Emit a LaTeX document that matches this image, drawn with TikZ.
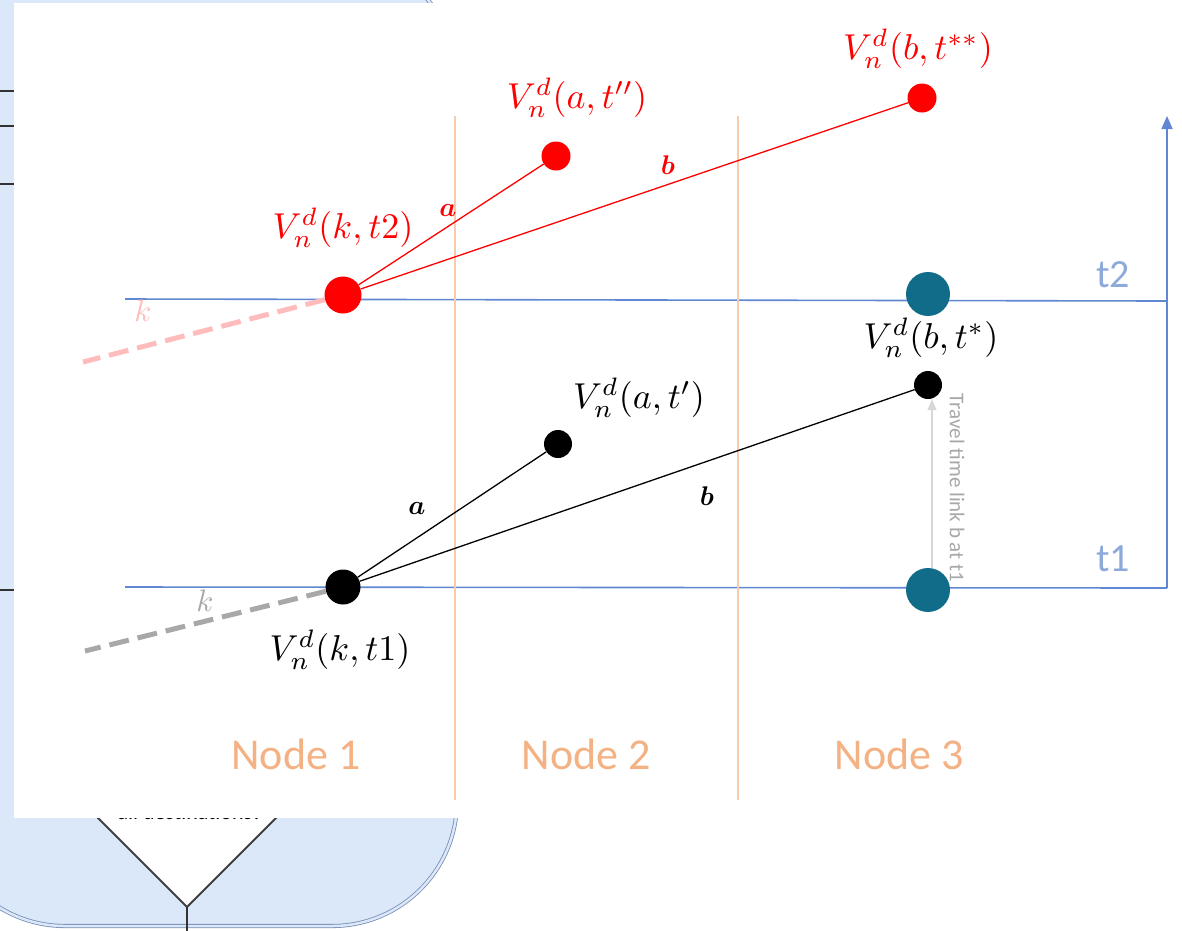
\documentclass[tikz,border=0pt]{standalone}
\usepackage{amsmath,amssymb}
\usepackage{fontspec}
\setsansfont{Carlito}
\usetikzlibrary{arrows.meta,calc}

\definecolor{paneblue}{RGB}{218,232,250}
\definecolor{paneedge}{RGB}{120,140,180}
\definecolor{axisblue}{RGB}{95,135,210}
\definecolor{labelblue}{RGB}{142,170,219}
\definecolor{sepline}{RGB}{248,203,173}
\definecolor{nodeorange}{RGB}{244,177,131}
\definecolor{stopteal}{RGB}{17,108,138}
\definecolor{pinkk}{RGB}{255,188,188}
\definecolor{greyk}{RGB}{168,168,168}
\definecolor{arrowgrey}{RGB}{215,215,215}

\begin{document}
\begin{tikzpicture}[x=1pt,y=-1pt,
  dot/.style={circle,fill,inner sep=0pt},
  vlabel/.style={scale=3.6},
  linklabel/.style={scale=2.7},
  klabel/.style={scale=3.1},
  nodename/.style={font=\sffamily\fontsize{44}{50}\selectfont,text=nodeorange},
  tlabel/.style={font=\sffamily\fontsize{40}{46}\selectfont,text=labelblue},
  axis/.style={axisblue,line width=1.6},
  sep/.style={sepline,line width=1.4},
  kdash/.style={line width=5,dash pattern=on 20pt off 9pt}]

\useasboundingbox (0,0) rectangle (1182,930);
\clip (0,0) rectangle (1182,930);

% Flowchart lying behind
\filldraw[fill=paneblue,draw=paneedge,line width=0.8,double=paneblue,double distance=2.5,
  rounded corners=125] (-60,-45) rectangle (457,926);
\foreach \y in {91,126,184,590}
  \draw[black!80,line width=1.5] (0,\y) -- (20,\y);
\draw[black!75,line width=2,fill=white] (187,727) -- (277,817) -- (187,907) -- (97,817) -- cycle;
\draw[black!80,line width=2] (187,907) -- (187,935);
\node[font=\sffamily\fontsize{22}{26}\selectfont,anchor=base] (ask) at (190,819) {all destinations?};

% White sheet
\fill[white] (14,3) rectangle (1190,818);

% Time lines and axis
\coordinate (tTwoL) at (125,299);
\coordinate (tTwoR) at (1167,301);
\coordinate (tOneL) at (125,587);
\coordinate (tOneR) at (1167,588);
\coordinate (axisTop) at (1167,116);
\draw[axis] (tTwoL) -- (tTwoR);
\draw[axis] (tOneL) -- (tOneR);
\draw[axis,-{Triangle[length=13pt,width=11pt]}] (tOneR) -- (axisTop);
\node[tlabel] (tTwo) at (1113,275) {t2};
\node[tlabel] (tOne) at (1113,559) {t1};

% Node columns
\draw[sep] (455,116) -- (455,800);
\draw[sep] (738,116) -- (738,800);
\node[nodename] (nodeOne) at (296,754) {Node 1};
\node[nodename] (nodeTwo) at (586,754) {Node 2};
\node[nodename] (nodeThree) at (899,754) {Node 3};

% Stops of node 3
\node[dot,fill=stopteal,minimum size=44] (stopTwo) at (928,294) {};
\node[dot,fill=stopteal,minimum size=44] (stopOne) at (928,590) {};

% Labels at t2
\node[dot,red,minimum size=37] (kTwo) at (343,295) {};
\node[dot,red,minimum size=29] (aTwo) at (556,156) {};
\node[dot,red,minimum size=29] (bTwo) at (922,98) {};
\coordinate (kTwoTail) at (83,362);
\draw[pinkk,kdash] (kTwo) -- (kTwoTail);
\draw[red,line width=1.3] (kTwo) -- (aTwo);
\draw[red,line width=1.3] (kTwo) -- (bTwo);
\node[vlabel,red] (kTwoLbl) at (343,228) {$V_n^d(k,t2)$};
\node[vlabel,red] (aTwoLbl) at (577,98) {$V_n^d(a,t'')$};
\node[vlabel,red] (bTwoLbl) at (918,49) {$V_n^d(b,t^{**})$};
\node[linklabel,red] (aTwoLink) at (448,210) {$\boldsymbol{a}$};
\node[linklabel,red] (bTwoLink) at (668,165) {$\boldsymbol{b}$};
\node[klabel,pinkk] (kTwoLink) at (143,311) {$k$};

% Labels at t1
\node[dot,minimum size=35] (kOne) at (343,587) {};
\node[dot,minimum size=28] (aOne) at (558,444) {};
\node[dot,minimum size=28] (bOne) at (928,385) {};
\coordinate (kOneTail) at (85,651);
\draw[greyk,kdash] (kOne) -- (kOneTail);
\draw[line width=1.3] (kOne) -- (aOne);
\draw[line width=1.3] (kOne) -- (bOne);
\node[vlabel] (kOneLbl) at (340,650) {$V_n^d(k,t1)$};
\node[vlabel] (aOneLbl) at (639,398) {$V_n^d(a,t')$};
\node[vlabel] (bOneLbl) at (931,338) {$V_n^d(b,t^*)$};
\node[linklabel] (aOneLink) at (417,508) {$\boldsymbol{a}$};
\node[linklabel] (bOneLink) at (707,496) {$\boldsymbol{b}$};
\node[klabel,greyk] (kOneLink) at (205,601) {$k$};

% Travel time on link b
\draw[arrowgrey,line width=1.5,-{Triangle[length=11pt,width=9pt]}]
  ([xshift=4]stopOne.north) -- ([xshift=4]bOne.south);
\node[rotate=-90,font=\sffamily\fontsize{21}{24}\selectfont,text=greyk] (travel) at (957,488)
  {Travel time link b at t1};

\end{tikzpicture}
\end{document}
